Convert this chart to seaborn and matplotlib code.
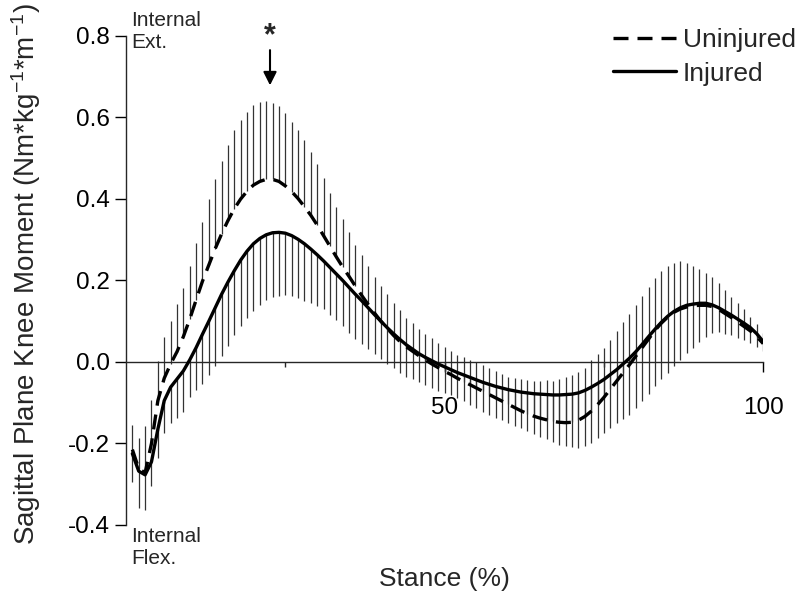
import numpy as np
import pandas as pd
import matplotlib
matplotlib.use("Agg")
import matplotlib.pyplot as plt
import seaborn as sns

# stance (%) and knee moment mean / SD per group
stance = list(range(1, 101))

uninjured_mean = [
    -0.215, -0.262, -0.272, -0.200, -0.095, -0.040, -0.005, 0.025, 0.062, 0.105,
    0.152, 0.198, 0.238, 0.278, 0.314, 0.347, 0.376, 0.400, 0.419, 0.434,
    0.443, 0.448, 0.448, 0.443, 0.432, 0.418, 0.401, 0.381, 0.360, 0.336,
    0.310, 0.284, 0.258, 0.233, 0.210, 0.186, 0.163, 0.141, 0.120, 0.100,
    0.082, 0.065, 0.050, 0.037, 0.026, 0.015, 0.005, -0.005, -0.014, -0.023,
    -0.031, -0.040, -0.048, -0.056, -0.064, -0.072, -0.080, -0.088, -0.096, -0.104,
    -0.112, -0.120, -0.127, -0.133, -0.138, -0.142, -0.146, -0.148, -0.149, -0.148,
    -0.143, -0.134, -0.121, -0.105, -0.087, -0.067, -0.047, -0.027, -0.007, 0.014,
    0.035, 0.056, 0.077, 0.095, 0.110, 0.122, 0.130, 0.135, 0.138, 0.139,
    0.139, 0.136, 0.129, 0.119, 0.109, 0.098, 0.087, 0.076, 0.062, 0.045]

uninjured_sd = [
    0.060, 0.075, 0.115, 0.107, 0.098, 0.100, 0.105, 0.116, 0.120, 0.130,
    0.140, 0.146, 0.163, 0.172, 0.180, 0.185, 0.192, 0.194, 0.195, 0.197,
    0.196, 0.192, 0.188, 0.184, 0.178, 0.172, 0.168, 0.164, 0.156, 0.150,
    0.142, 0.130, 0.123, 0.117, 0.110, 0.102, 0.099, 0.094, 0.089, 0.086,
    0.084, 0.080, 0.077, 0.072, 0.069, 0.066, 0.064, 0.063, 0.061, 0.059,
    0.058, 0.058, 0.059, 0.061, 0.063, 0.064, 0.064, 0.065, 0.066, 0.068,
    0.072, 0.077, 0.082, 0.087, 0.092, 0.097, 0.100, 0.105, 0.111, 0.115,
    0.119, 0.119, 0.125, 0.125, 0.122, 0.122, 0.123, 0.124, 0.125, 0.126,
    0.126, 0.129, 0.128, 0.128, 0.125, 0.122, 0.117, 0.108, 0.098, 0.088,
    0.079, 0.072, 0.065, 0.057, 0.050, 0.046, 0.043, 0.035, 0.032, 0.025]

injured_mean = [
    -0.225, -0.268, -0.277, -0.245, -0.165, -0.095, -0.062, -0.042, -0.022, 0.005,
    0.035, 0.068, 0.100, 0.133, 0.166, 0.196, 0.224, 0.250, 0.272, 0.290,
    0.303, 0.312, 0.317, 0.318, 0.316, 0.310, 0.301, 0.290, 0.277, 0.263,
    0.248, 0.232, 0.216, 0.200, 0.183, 0.166, 0.150, 0.133, 0.116, 0.100,
    0.084, 0.069, 0.055, 0.042, 0.031, 0.020, 0.011, 0.003, -0.005, -0.012,
    -0.019, -0.026, -0.032, -0.038, -0.044, -0.050, -0.055, -0.060, -0.064, -0.068,
    -0.071, -0.074, -0.076, -0.078, -0.079, -0.080, -0.081, -0.081, -0.080, -0.079,
    -0.076, -0.070, -0.062, -0.053, -0.043, -0.031, -0.019, -0.005, 0.009, 0.025,
    0.043, 0.062, 0.080, 0.097, 0.112, 0.124, 0.133, 0.139, 0.142, 0.144,
    0.144, 0.140, 0.133, 0.124, 0.115, 0.105, 0.095, 0.084, 0.069, 0.050]

injured_sd = [
    0.070, 0.090, 0.086, 0.060, 0.070, 0.080, 0.088, 0.095, 0.100, 0.092,
    0.105, 0.122, 0.133, 0.144, 0.152, 0.156, 0.159, 0.161, 0.164, 0.164,
    0.163, 0.161, 0.158, 0.155, 0.152, 0.148, 0.144, 0.140, 0.133, 0.126,
    0.119, 0.116, 0.114, 0.112, 0.111, 0.109, 0.105, 0.101, 0.096, 0.092,
    0.089, 0.085, 0.082, 0.078, 0.072, 0.069, 0.067, 0.066, 0.066, 0.065,
    0.063, 0.063, 0.065, 0.067, 0.069, 0.072, 0.074, 0.077, 0.079, 0.082,
    0.086, 0.089, 0.094, 0.099, 0.105, 0.110, 0.116, 0.122, 0.126, 0.130,
    0.134, 0.137, 0.138, 0.134, 0.131, 0.130, 0.131, 0.136, 0.138, 0.137,
    0.138, 0.140, 0.139, 0.139, 0.138, 0.134, 0.127, 0.118, 0.107, 0.094,
    0.082, 0.068, 0.060, 0.055, 0.050, 0.046, 0.042, 0.037, 0.032, 0.024]

y_ticks = [-0.4, -0.2, 0.0, 0.2, 0.4, 0.6, 0.8]
x_major = [50, 100]
x_minor = [25, 75]

sns.set_style("ticks")
plt.rcParams['font.family'] = ['Liberation Sans', 'DejaVu Sans']
plt.rcParams['mathtext.fontset'] = 'custom'
plt.rcParams['mathtext.rm'] = 'Liberation Sans'
plt.rcParams['mathtext.it'] = 'Liberation Sans:italic'
plt.rcParams['axes.unicode_minus'] = False

df = pd.DataFrame({'stance': stance,
                   'uninj': uninjured_mean, 'uninj_sd': uninjured_sd,
                   'inj': injured_mean, 'inj_sd': injured_sd})

fig, ax = plt.subplots(figsize=(8, 6.09), dpi=100)
fig.subplots_adjust(left=0.1575, right=0.954, top=0.941, bottom=0.138)

# SD bars: uninjured upward, injured downward
zeros = np.zeros(len(df))
ax.errorbar(df['stance'], df['uninj'], yerr=[zeros, df['uninj_sd']], fmt='none',
            ecolor='#333333', elinewidth=0.9, capsize=0, zorder=1)
ax.errorbar(df['stance'], df['inj'], yerr=[df['inj_sd'], zeros], fmt='none',
            ecolor='#333333', elinewidth=0.9, capsize=0, zorder=1)

sns.lineplot(data=df, x='stance', y='uninj', ax=ax, color='black', lw=2.4,
             linestyle=(0, (4.5, 2.7)), label='Uninjured', zorder=3)
sns.lineplot(data=df, x='stance', y='inj', ax=ax, color='black', lw=2.4,
             label='Injured', zorder=3)

ax.set_xlim(0, 100)
ax.set_ylim(-0.4, 0.8)
ax.set_yticks(y_ticks)
ax.set_yticklabels([f"{v:.1f}" for v in y_ticks])
ax.set_xticks(x_major)
ax.set_xticks(x_minor, minor=True)

for side in ['top', 'right']:
    ax.spines[side].set_visible(False)
ax.spines['bottom'].set_position(('data', 0))
ax.spines['left'].set_linewidth(1.0)
ax.spines['bottom'].set_linewidth(1.0)

ax.tick_params(axis='y', direction='out', length=8, width=1.0, pad=3.5,
               labelsize=17.5, colors='black')
ax.tick_params(axis='x', which='major', direction='out', length=7, width=1.0,
               pad=18, labelsize=17.5, colors='black')
ax.tick_params(axis='x', which='minor', direction='out', length=3.5, width=1.0)

ax.set_xlabel('Stance (%)', fontsize=19)
ax.xaxis.set_label_coords(0.5, -0.085)
ax.set_ylabel(r'Sagittal Plane Knee Moment (Nm*kg$^{\mathrm{-1}}$*m$^{\mathrm{-1}}$)',
              fontsize=20)
ax.yaxis.set_label_coords(-0.131, 0.512)

ax.text(0.008, 1.05, 'Internal\nExt.', transform=ax.transAxes, fontsize=15,
        va='top', ha='left')
ax.text(0.008, -0.005, 'Internal\nFlex.', transform=ax.transAxes, fontsize=15,
        va='top', ha='left')

# significance marker
ax.annotate('', xy=(22.6, 0.672), xytext=(22.6, 0.772),
            arrowprops=dict(arrowstyle='-|>', color='black', lw=1.5,
                            mutation_scale=20))
ax.text(22.6, 0.8, '*', fontsize=22, fontweight='bold', ha='center', va='center')

leg = ax.legend(loc='upper right', bbox_to_anchor=(0.995, 0.954),
                bbox_transform=fig.transFigure, frameon=False, fontsize=19,
                handlelength=2.4, handletextpad=0.27, labelspacing=0.36,
                borderpad=0, borderaxespad=0)

fig.savefig('out.png', dpi=100)
